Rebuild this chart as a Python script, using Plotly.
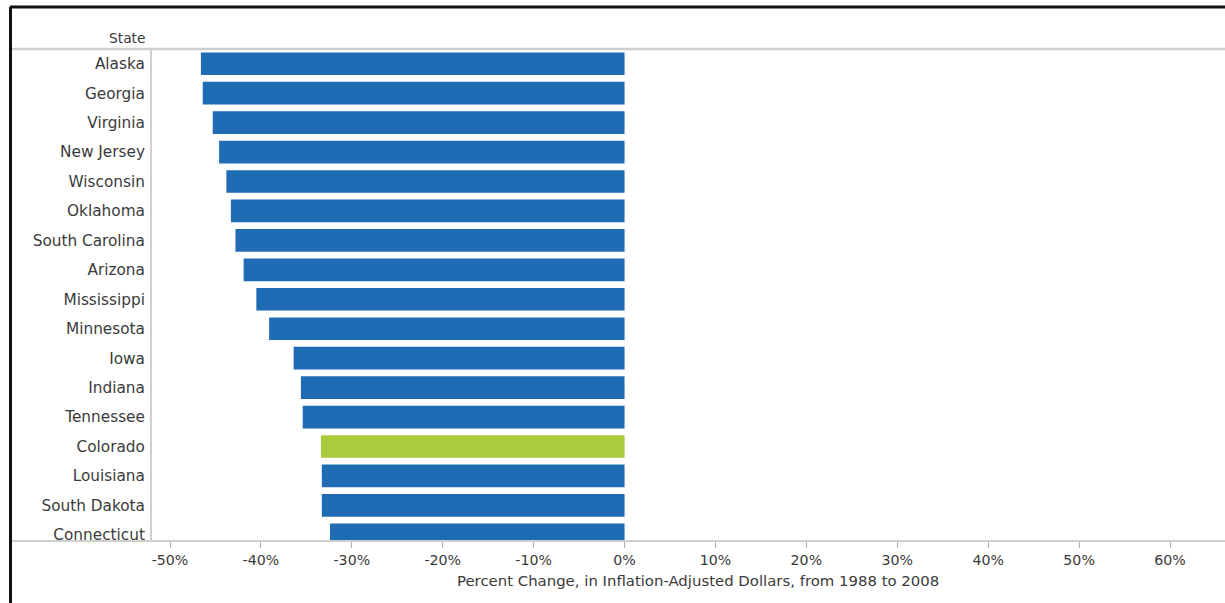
import plotly.graph_objects as go

# States ordered from largest decline (top) to smallest (bottom)
states = ["Alaska", "Georgia", "Virginia", "New Jersey", "Wisconsin", "Oklahoma",
          "South Carolina", "Arizona", "Mississippi", "Minnesota", "Iowa", "Indiana",
          "Tennessee", "Colorado", "Louisiana", "South Dakota", "Connecticut"]
pct_change = [-46.6, -46.4, -45.3, -44.6, -43.8, -43.3, -42.8, -41.9, -40.5,
              -39.1, -36.4, -35.6, -35.4, -33.4, -33.3, -33.3, -32.4]
highlight = "Colorado"

tick_vals = [-50, -40, -30, -20, -10, 0, 10, 20, 30, 40, 50, 60]
tick_text = ["-50%", "-40%", "-30%", "-20%", "-10%", "0%", "10%", "20%",
             "30%", "40%", "50%", "60%"]

BLUE = "#1f6bb4"
GREEN = "#a9cb3c"
TEXT = "#3a3a3a"
RULE = "#cfcfcf"
FONT = "DejaVu Sans"

W, H = 1225, 603
L, R, T, B = 152, 0, 49, 62
pw, ph = W - L - R, H - T - B


def px_x(px):
    return (px - L) / pw


def px_y(py):
    return (H - B - py) / ph


colors = [GREEN if s == highlight else BLUE for s in states]

fig = go.Figure(go.Bar(
    x=pct_change, y=states, orientation="h",
    marker=dict(color=colors, line=dict(width=0)),
    width=0.77, hoverinfo="x+y",
))

fig.update_layout(
    width=W, height=H,
    margin=dict(l=L, r=R, t=T, b=B, pad=0),
    paper_bgcolor="white", plot_bgcolor="white",
    font=dict(family=FONT, color=TEXT),
    showlegend=False,
    xaxis=dict(
        range=[-51.98, 66.05], tickvals=tick_vals, ticktext=tick_text,
        ticks="outside", ticklen=6, tickcolor="#b0b0b0", tickwidth=1,
        tickfont=dict(size=14.2, color=TEXT, family=FONT),
        showgrid=False, zeroline=False, showline=False, fixedrange=True,
    ),
    yaxis=dict(
        type="category", categoryorder="array", categoryarray=states,
        range=[16.21, -0.5],
        ticks="outside", ticklen=2, tickcolor="rgba(0,0,0,0)",
        tickfont=dict(size=15.3, color=TEXT, family=FONT),
        showgrid=False, zeroline=False,
        showline=True, linecolor=RULE, linewidth=2, fixedrange=True,
    ),
)

shapes = [
    # header rule under the column title
    dict(type="line", xref="paper", yref="paper", x0=px_x(10), x1=1.0,
         y0=px_y(49), y1=px_y(49), line=dict(color=RULE, width=2.5)),
    # bottom axis rule spanning the label column
    dict(type="line", xref="paper", yref="paper", x0=px_x(10), x1=1.0,
         y0=px_y(541), y1=px_y(541), line=dict(color=RULE, width=2)),
    # outer frame (top and left edges)
    dict(type="line", xref="paper", yref="paper", x0=px_x(10), x1=1.0,
         y0=px_y(7), y1=px_y(7), line=dict(color="#111111", width=3)),
    dict(type="line", xref="paper", yref="paper", x0=px_x(10.5), x1=px_x(10.5),
         y0=px_y(7), y1=px_y(603), line=dict(color="#111111", width=3)),
]
fig.update_layout(shapes=shapes)

fig.add_annotation(
    text="State", xref="paper", yref="paper", x=px_x(148), y=px_y(38),
    xanchor="right", yanchor="middle", showarrow=False,
    font=dict(size=13.8, color=TEXT, family=FONT),
)
fig.add_annotation(
    text="Percent Change, in Inflation-Adjusted Dollars, from 1988 to 2008",
    xref="paper", yref="paper", x=px_x(698), y=px_y(581),
    xanchor="center", yanchor="middle", showarrow=False,
    font=dict(size=14.9, color=TEXT, family=FONT),
)

fig.write_html("out.html", config={"displayModeBar": False})
